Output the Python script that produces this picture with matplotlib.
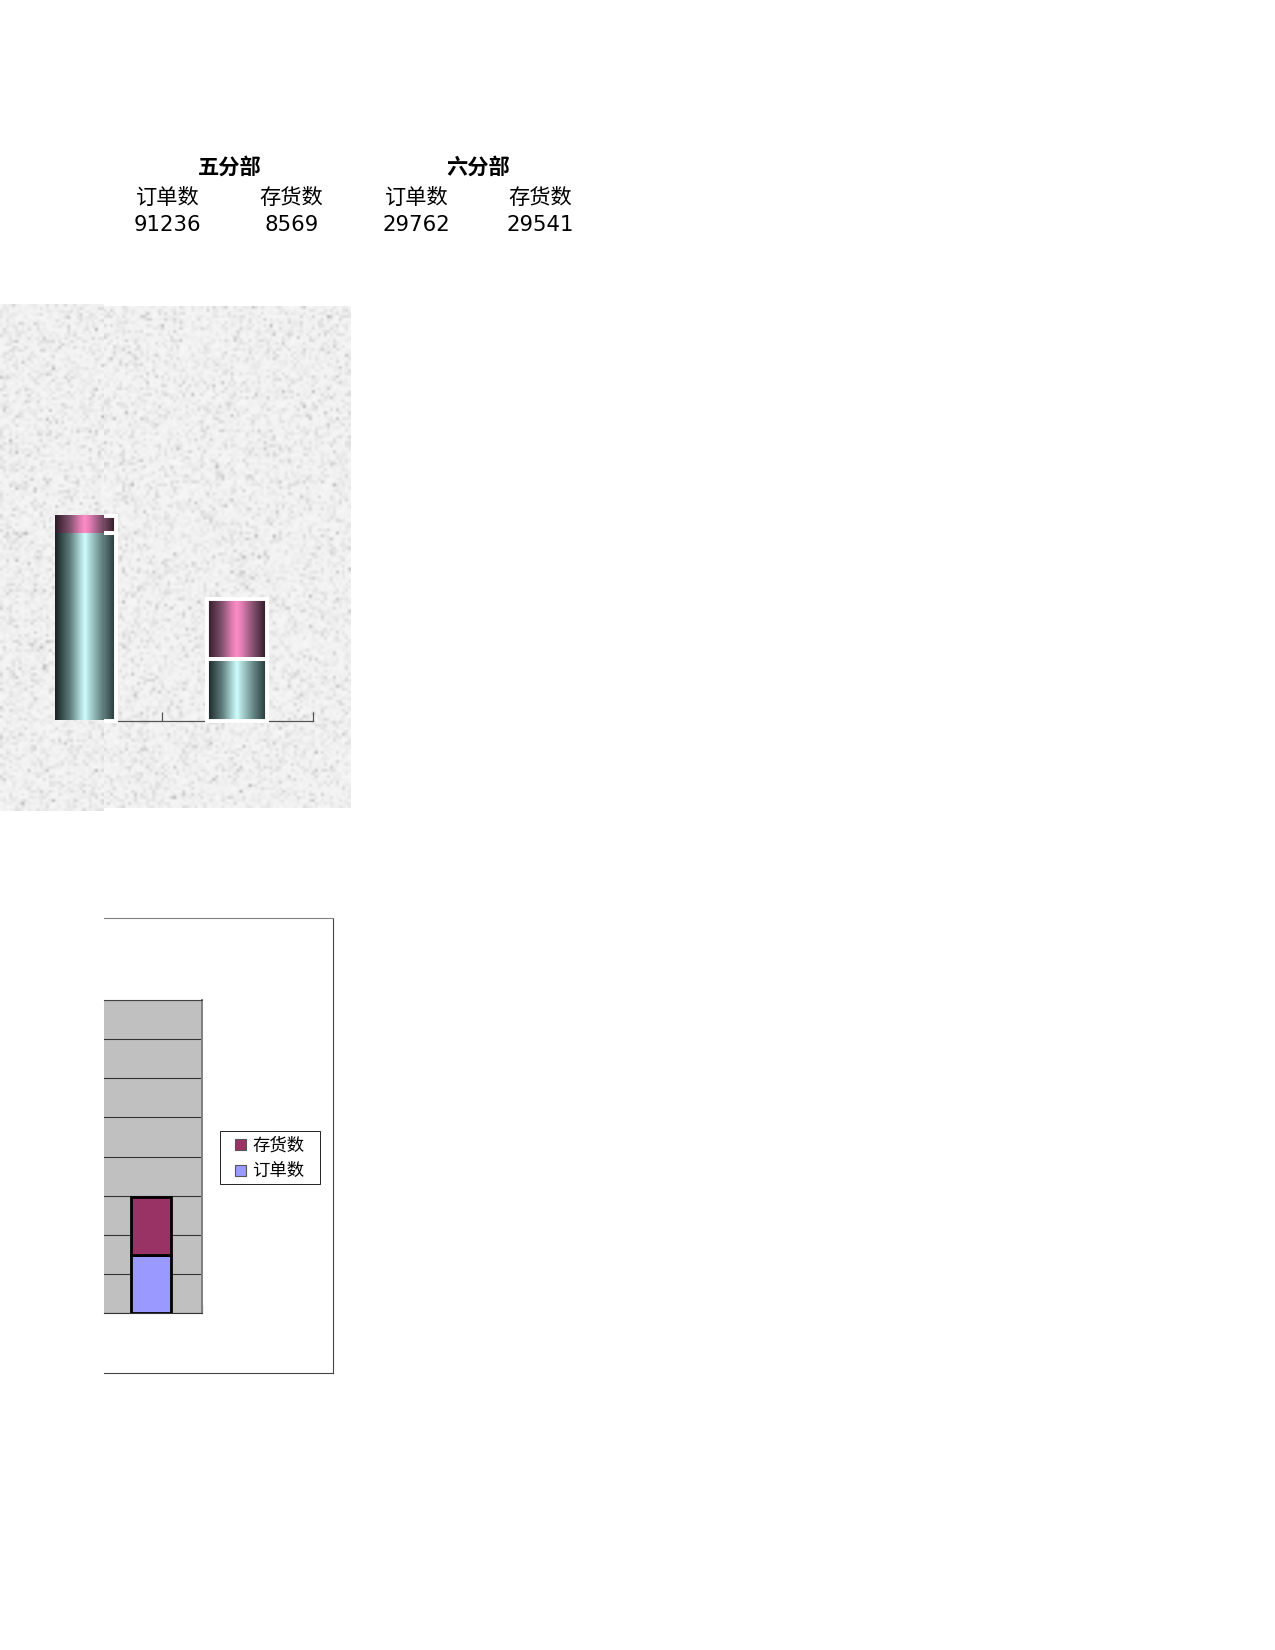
import numpy as np
import matplotlib
matplotlib.use("Agg")
import matplotlib.pyplot as plt
from matplotlib.colors import LinearSegmentedColormap
from matplotlib.patches import Rectangle, Patch

plt.rcParams['font.family'] = ['DejaVu Sans', 'Noto Sans CJK SC']

# ---- data ----
divisions = ['五分部', '六分部']
series_names = ['订单数', '存货数']
orders = [91236, 29762]
stock = [8569, 29541]

W, H = 1275, 1650
fig = plt.figure(figsize=(W / 100, H / 100), dpi=100, facecolor='white')


def px_axes(x0, y0, x1, y1, **kw):
    return fig.add_axes([x0 / W, 1 - y1 / H, (x1 - x0) / W, (y1 - y0) / H], **kw)


def px_text(x, y, s, **kw):
    fig.text(x / W, 1 - y / H, s, ha='center', va='center', **kw)


# ---- table ----
for cx, name in zip([229.5, 478], divisions):
    px_text(cx, 167.5, name, fontsize=15.3, fontweight='bold')
col_x = [167.5, 291.5, 416.5, 540.5]
col_vals = [orders[0], stock[0], orders[1], stock[1]]
for i, (cx, v) in enumerate(zip(col_x, col_vals)):
    px_text(cx, 197.5, series_names[i % 2], fontsize=15.3)
    px_text(cx, 225, str(v), fontsize=15.3)

# ---- chart 1: textured picture with gradient cylinders ----
stops = [0, .25, .42, .5, .58, .8, 1]
teal = LinearSegmentedColormap.from_list('teal', list(zip(stops, ['#172222', '#5f7d7d', '#aed8d8', '#cffefe', '#aed8d8', '#5f7d7d', '#243434'])))
pink = LinearSegmentedColormap.from_list('pink_', list(zip(stops, ['#2c1a26', '#84526f', '#e27eb4', '#ff8cc6', '#e27eb4', '#784a66', '#2a1820'])))
grad = np.linspace(0, 1, 128)[None, :]
texture = np.random.RandomState(7)


def textured(ax, w, h):
    shape = (h // 3, w // 3)
    n = 246 - texture.exponential(9, size=shape)
    ax.imshow(np.clip(n, 185, 250), cmap='gray', vmin=0, vmax=255, interpolation='bilinear',
              extent=(*ax.get_xlim(), *ax.get_ylim()), aspect='auto', zorder=0)


def chart1(x0, y0, x1, y1, center0, base, edge):
    ax = px_axes(x0, y0, x1, y1)
    step, scale = 151.0, 0.00205
    xlim = ((x0 - center0) / step, (x1 - center0) / step)
    ylim = ((base - y1) / scale, (base - y0) / scale)
    ax.set_xlim(xlim)
    ax.set_ylim(ylim)
    textured(ax, x1 - x0, y1 - y0)
    width = 60 / step
    for i, (o, s) in enumerate(zip(orders, stock)):
        for bottom, height, cm in [(0, o, teal), (o, s, pink)]:
            ax.imshow(grad, cmap=cm, aspect='auto', zorder=3,
                      extent=(i - width / 2, i + width / 2, bottom, bottom + height))
            if edge:
                ax.add_patch(Rectangle((i - width / 2, bottom), width, height, fill=False,
                                       ec='white', lw=2.8, zorder=4))
    ax.set_xlim(xlim)
    ax.set_ylim(ylim)
    for sp in ['left', 'right', 'top']:
        ax.spines[sp].set_visible(False)
    ax.set_yticks([])
    if edge:
        ax.spines['bottom'].set_position(('data', 0))
        ax.spines['bottom'].set_bounds(0.2, 1.5)
        ax.spines['bottom'].set_color('#555555')
        ax.spines['bottom'].set_linewidth(0.9)
        ax.set_xticks([0.5, 1.5])
        ax.tick_params(axis='x', direction='in', length=6.5, width=0.9, color='#555555', labelbottom=False)
    else:
        ax.spines['bottom'].set_visible(False)
        ax.set_xticks([])


chart1(0, 304, 104, 811, 85, 720.5, False)
chart1(104, 306, 350, 808, 86, 720.5, True)

# ---- chart 2: stacked columns, clipped at the left ----
outer = px_axes(104, 918, 333, 1373)
outer.set_xticks([])
outer.set_yticks([])
outer.spines['left'].set_visible(False)
outer.spines['top'].set_color('#808080')
for sp in ['right', 'bottom']:
    outer.spines[sp].set_color('#444444')
for sp in outer.spines.values():
    sp.set_linewidth(0.8)

ax2 = px_axes(104, 1000, 202, 1313)
ax2.set_facecolor('#c0c0c0')
ax2.set_xlim((104 - 49) / 102, 1.5)
ax2.set_ylim(0, 160000)
ax2.set_yticks(np.arange(0, 160001, 20000))
ax2.set_axisbelow(True)
ax2.grid(axis='y', color='#333333', lw=0.8)
ax2.tick_params(axis='y', left=False, labelleft=False)
ax2.set_xticks([1.5])
ax2.tick_params(axis='x', direction='in', length=6, width=0.8, labelbottom=False)
cats = np.arange(len(orders))
b1 = ax2.bar(cats, orders, width=40 / 102, color='#9999ff', edgecolor='black', lw=2.0, zorder=3)
b2 = ax2.bar(cats, stock, bottom=orders, width=40 / 102, color='#993366', edgecolor='black', lw=2.0, zorder=3)
ax2.spines['left'].set_visible(False)
ax2.spines['right'].set_color('#808080')
ax2.spines['right'].set_linewidth(1.4)
ax2.spines['top'].set_color('#444444')
ax2.spines['bottom'].set_color('#333333')

# legend frame is wider than matplotlib's padding allows, so it is drawn on its own
fig.add_artist(Rectangle((220 / W, 1 - 1184 / H), 100 / W, 53 / H, transform=fig.transFigure,
                         fc='white', ec='#222222', lw=0.7))
handles = [Patch(fc='#993366', ec='#555555', lw=0.8), Patch(fc='#9999ff', ec='#555555', lw=0.8)]
leg = fig.legend(handles, [series_names[1], series_names[0]], loc='center',
                 bbox_to_anchor=(270 / W, 1 - 1158.5 / H), fontsize=12.5, frameon=False,
                 handlelength=0.6, handleheight=0.6,
                 handletextpad=0.38, labelspacing=0.45, borderpad=0, borderaxespad=0)
leg.set_zorder(5)

fig.savefig('out.png', dpi=100, facecolor='white')
